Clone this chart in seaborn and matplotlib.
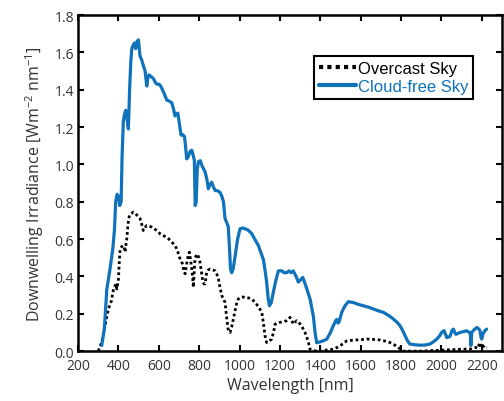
import numpy as np
import pandas as pd
import matplotlib
matplotlib.use("Agg")
import matplotlib.pyplot as plt
import seaborn as sns

# Downwelling irradiance spectra (wavelength in nm, irradiance in W m^-2 nm^-1)
clear_wl = [317, 330, 342, 358, 372, 380, 386, 393, 400, 406, 413, 418, 424, 430, 436, 442, 449, 455,
            461, 466, 473, 479, 485, 492, 499, 503, 507, 515, 523, 532, 537, 540, 545, 551, 562, 573,
            582, 590, 600, 606, 614, 622, 630, 639, 650, 664, 672, 680, 686, 694, 700, 710, 718, 727,
            732, 738, 745, 755, 763, 770, 776, 780, 785, 790, 796, 805, 815, 829, 838, 845, 852, 862,
            870, 879, 890, 903, 912, 920, 928, 936, 944, 950, 955, 961, 968, 978, 990, 1002, 1015,
            1027, 1040, 1060, 1075, 1093, 1105, 1118, 1128, 1134, 1142, 1148, 1157, 1167, 1180, 1192,
            1210, 1220, 1233, 1245, 1255, 1266, 1280, 1291, 1300, 1313, 1325, 1340, 1349, 1358, 1365,
            1374, 1382, 1400, 1420, 1432, 1450, 1464, 1475, 1481, 1488, 1494, 1506, 1522, 1539, 1564,
            1590, 1613, 1640, 1663, 1690, 1712, 1740, 1762, 1780, 1795, 1808, 1820, 1832, 1844, 1870,
            1894, 1920, 1943, 1960, 1977, 1990, 2001, 2013, 2020, 2026, 2035, 2043, 2052, 2059, 2066,
            2072, 2082, 2092, 2110, 2125, 2138, 2143, 2146, 2150, 2162, 2175, 2184, 2191, 2197, 2200,
            2205, 2210, 2216, 2224]
clear_irr = [0.03, 0.12, 0.33, 0.44, 0.55, 0.65, 0.80, 0.84, 0.83, 0.78, 0.80, 1.05, 1.23, 1.27, 1.29,
             1.25, 1.19, 1.40, 1.55, 1.62, 1.64, 1.65, 1.62, 1.66, 1.667, 1.62, 1.58, 1.56, 1.53, 1.50,
             1.45, 1.42, 1.46, 1.48, 1.47, 1.46, 1.44, 1.43, 1.43, 1.425, 1.41, 1.39, 1.37, 1.345, 1.34,
             1.33, 1.30, 1.26, 1.27, 1.275, 1.23, 1.157, 1.16, 1.15, 1.10, 1.03, 1.04, 1.07, 1.076, 1.05,
             1.02, 0.78, 0.80, 0.97, 1.015, 1.02, 0.99, 0.96, 0.92, 0.87, 0.89, 0.905, 0.88, 0.86, 0.86,
             0.85, 0.83, 0.80, 0.71, 0.69, 0.665, 0.55, 0.44, 0.42, 0.44, 0.51, 0.60, 0.655, 0.66,
             0.655, 0.65, 0.63, 0.60, 0.566, 0.53, 0.49, 0.42, 0.37, 0.28, 0.243, 0.26, 0.315, 0.38,
             0.43, 0.43, 0.42, 0.42, 0.43, 0.42, 0.43, 0.40, 0.37, 0.38, 0.395, 0.36, 0.31, 0.28, 0.23,
             0.19, 0.10, 0.045, 0.05, 0.058, 0.064, 0.10, 0.136, 0.16, 0.17, 0.15, 0.16, 0.208, 0.243,
             0.265, 0.26, 0.25, 0.243, 0.235, 0.226, 0.215, 0.208, 0.19, 0.172, 0.155, 0.136, 0.11,
             0.082, 0.055, 0.038, 0.034, 0.032, 0.033, 0.038, 0.05, 0.065, 0.08, 0.10, 0.11, 0.09,
             0.073, 0.075, 0.08, 0.11, 0.118, 0.10, 0.09, 0.095, 0.10, 0.105, 0.109, 0.10, 0.095, 0.03,
             0.10, 0.115, 0.127, 0.12, 0.11, 0.07, 0.065, 0.09, 0.10, 0.11, 0.118]

overcast_wl = [300, 310, 317, 325, 334, 342, 350, 358, 365, 372, 378, 383, 387, 392, 396, 400, 404, 408,
               416, 424, 429, 433, 437, 441, 447, 454, 462, 468, 474, 482, 490, 498, 507, 515, 523, 530,
               540, 552, 565, 578, 590, 598, 606, 620, 639, 650, 664, 672, 680, 690, 697, 703, 709, 716,
               722, 730, 734, 738, 745, 751, 757, 763, 767, 771, 775, 779, 785, 791, 798, 804, 810, 817,
               823, 829, 834, 837, 845, 854, 866, 879, 888, 895, 903, 912, 920, 928, 936, 944, 953, 961,
               969, 978, 986, 994, 1002, 1015, 1027, 1045, 1060, 1073, 1085, 1098, 1110, 1118, 1126,
               1134, 1147, 1159, 1168, 1176, 1188, 1200, 1216, 1233, 1242, 1250, 1258, 1266, 1275, 1283,
               1292, 1300, 1312, 1324, 1333, 1341, 1349, 1365, 1385, 1405, 1425, 1445, 1464, 1480, 1497,
               1515, 1531, 1555, 1580, 1605, 1630, 1660, 1696, 1720, 1745, 1765, 1786, 1800, 1811, 1850,
               1900, 1950, 2000, 2050, 2100, 2150, 2170, 2180, 2190, 2198, 2205, 2215, 2224]
overcast_irr = [0.0, 0.03, 0.047, 0.09, 0.136, 0.18, 0.226, 0.25, 0.27, 0.315, 0.34, 0.35, 0.36, 0.333,
                0.36, 0.387, 0.48, 0.548, 0.56, 0.566, 0.55, 0.53, 0.57, 0.60, 0.68, 0.727, 0.735, 0.74,
                0.745, 0.74, 0.73, 0.72, 0.71, 0.68, 0.646, 0.66, 0.673, 0.67, 0.664, 0.655, 0.646, 0.64,
                0.628, 0.62, 0.61, 0.60, 0.584, 0.575, 0.566, 0.545, 0.52, 0.50, 0.49, 0.47, 0.44, 0.414,
                0.44, 0.47, 0.51, 0.53, 0.49, 0.44, 0.40, 0.342, 0.42, 0.50, 0.51, 0.52, 0.50, 0.477,
                0.43, 0.378, 0.36, 0.36, 0.40, 0.423, 0.435, 0.44, 0.435, 0.43, 0.41, 0.387, 0.34, 0.297,
                0.28, 0.26, 0.18, 0.11, 0.10, 0.13, 0.172, 0.22, 0.26, 0.28, 0.288, 0.29, 0.288, 0.285,
                0.28, 0.265, 0.25, 0.23, 0.208, 0.15, 0.082, 0.046, 0.055, 0.064, 0.10, 0.145, 0.15,
                0.154, 0.158, 0.163, 0.17, 0.181, 0.165, 0.145, 0.155, 0.163, 0.155, 0.145, 0.125, 0.10,
                0.075, 0.046, 0.01, 0.003, 0.0, 0.0, 0.005, 0.008, 0.01, 0.018, 0.028, 0.042, 0.055,
                0.058, 0.06, 0.062, 0.065, 0.063, 0.06, 0.054, 0.046, 0.035, 0.02, 0.008, 0.0, 0.0, 0.0,
                0.003, 0.005, 0.008, 0.01, 0.012, 0.02, 0.015, 0.046, 0.02, 0.03, 0.015, 0.02]

x_ticks = [200, 400, 600, 800, 1000, 1200, 1400, 1600, 1800, 2000, 2200]
y_ticks = [0.0, 0.2, 0.4, 0.6, 0.8, 1.0, 1.2, 1.4, 1.6, 1.8]

BLUE = "#0f72ba"
TEXT = "#333333"

sns.set_theme(style="ticks")
plt.rcParams["font.family"] = ["Open Sans", "DejaVu Sans"]
plt.rcParams["mathtext.fontset"] = "custom"
plt.rcParams["mathtext.rm"] = "Open Sans"
plt.rcParams["mathtext.it"] = "Open Sans:italic"

clear_df = pd.DataFrame({"wavelength": clear_wl, "irradiance": clear_irr})
overcast_df = pd.DataFrame({"wavelength": overcast_wl, "irradiance": overcast_irr})

fig = plt.figure(figsize=(5.04, 4.02), dpi=100)
ax = fig.add_axes([0.155, 0.124, 0.841, 0.836])

sns.lineplot(data=overcast_df, x="wavelength", y="irradiance", ax=ax, color="black",
             linewidth=2.0, linestyle=(0, (1.0, 1.0)), label="Overcast Sky", sort=False)
sns.lineplot(data=clear_df, x="wavelength", y="irradiance", ax=ax, color=BLUE,
             linewidth=2.3, label="Cloud-free Sky", sort=False)

ax.set_xlim(200, 2300)
ax.set_ylim(0, 1.8)
ax.set_xticks(x_ticks)
ax.set_yticks(y_ticks)
ax.set_yticklabels([f"{v:.1f}" for v in y_ticks])
ax.tick_params(direction="in", length=4, width=1.5, top=True, right=True,
               labelsize=10, labelcolor=TEXT, color="black")
ax.tick_params(axis="x", pad=5)
ax.tick_params(axis="y", pad=3)
for side in ["left", "right", "top", "bottom"]:
    ax.spines[side].set_visible(True)
    ax.spines[side].set_linewidth(1.8)
    ax.spines[side].set_color("black")

ax.set_xlabel("Wavelength [nm]", fontsize=11.5, color=TEXT, labelpad=3)
ax.set_ylabel(r"Downwelling Irradiance [Wm$^{-2}$ nm$^{-1}$]", fontsize=11.5, color=TEXT, labelpad=6)

leg = ax.legend(loc="upper right", bbox_to_anchor=(0.932, 0.878), borderaxespad=0,
                frameon=True, fancybox=False, edgecolor="black", framealpha=1,
                prop={"family": "Liberation Sans", "size": 12}, handlelength=2.2,
                handletextpad=0.1, borderpad=0.3, labelspacing=0.15)
leg.get_frame().set_linewidth(1.5)
for line in leg.get_lines():
    line.set_linewidth(3.0)
leg.get_texts()[0].set_color("black")
leg.get_texts()[1].set_color(BLUE)

fig.savefig("out.png", dpi=100)
